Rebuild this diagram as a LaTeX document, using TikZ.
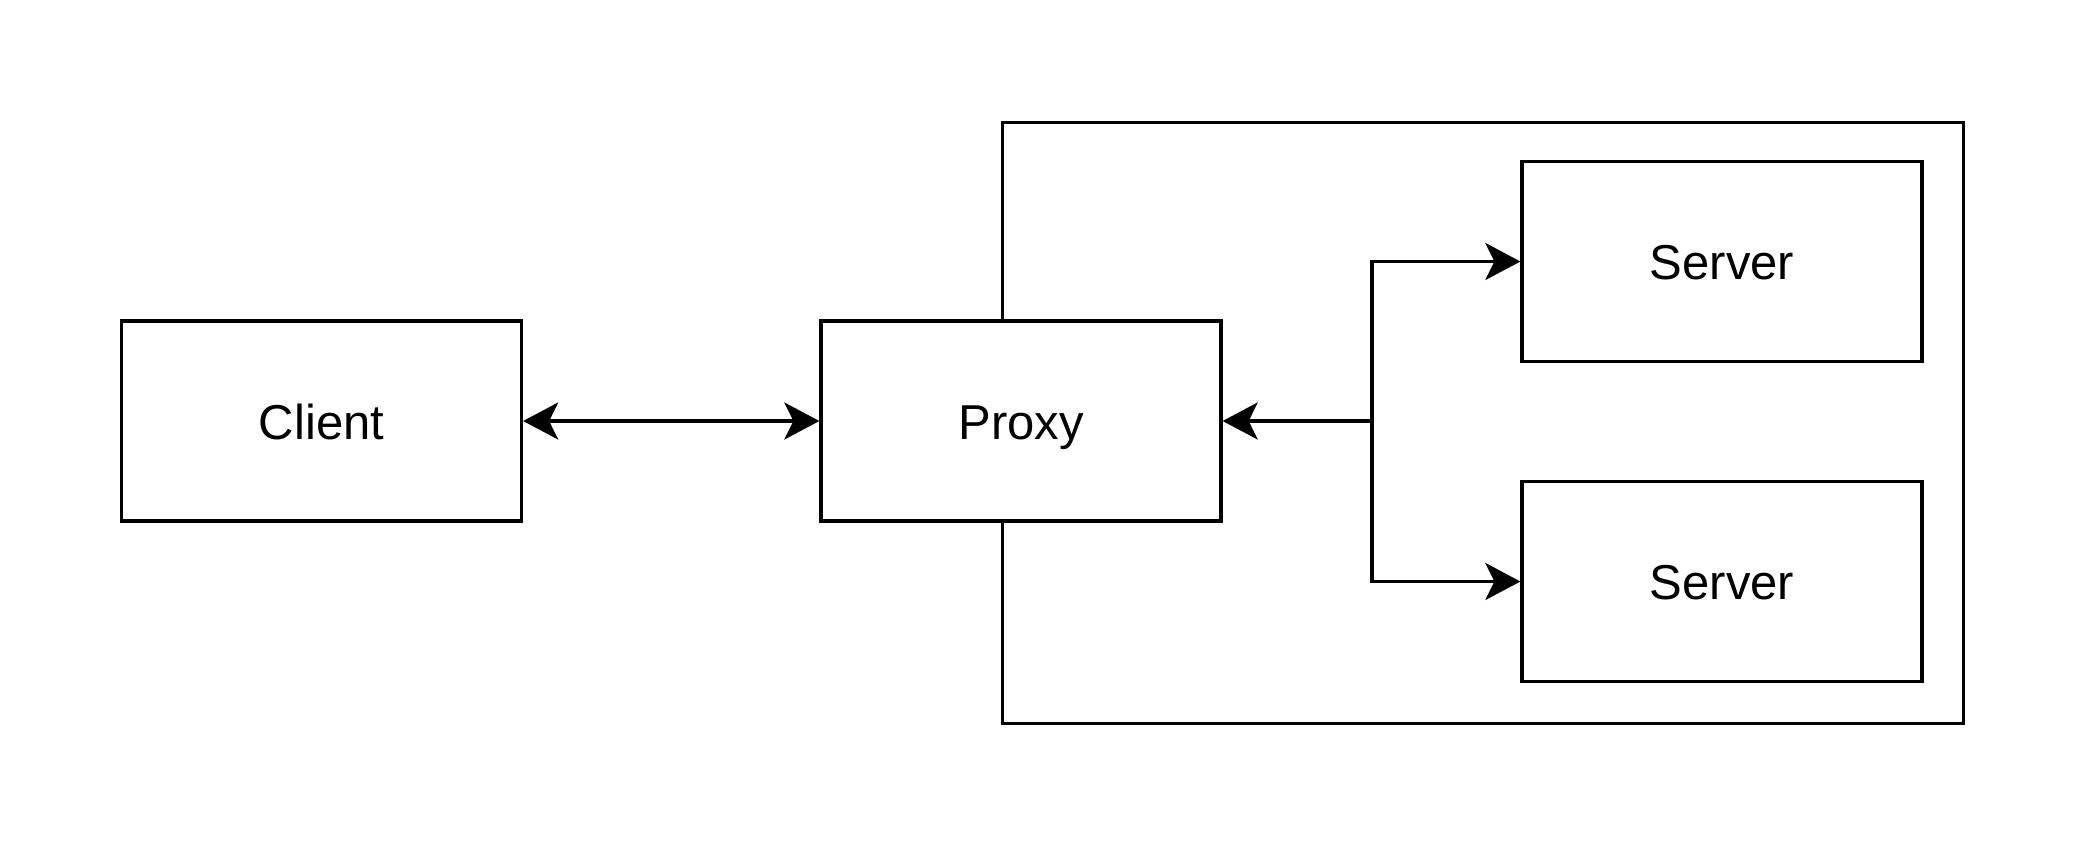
\documentclass[tikz,border=0pt]{standalone}
\usepackage{fontspec}
\setmainfont{Liberation Sans}
\usetikzlibrary{arrows.meta}
\begin{document}
\begin{tikzpicture}[x=1pt,y=-1pt,
  box/.style={draw=black,fill=white,line width=3.3pt,minimum width=400pt,minimum height=200pt,inner sep=0pt,text height=36pt,text depth=0pt,font=\fontsize{49}{53}\selectfont},
  conn/.style={line width=3.3pt,-{Stealth[length=35pt,width=37pt,inset=9pt]}},
  biconn/.style={line width=3.3pt,{Stealth[length=35pt,width=37pt,inset=9pt]}-{Stealth[length=35pt,width=37pt,inset=9pt]}}]
\useasboundingbox (0,0) rectangle (2084,844);
\node[draw=black,line width=3.3pt,minimum width=961pt,minimum height=601pt,inner sep=0pt,anchor=north west] (group) at (1001,121) {};
\node[box] (client) at (321.5,421) {Client};
\node[box] (proxy) at (1021,421) {Proxy};
\node[box] (s1) at (1722,261.5) {Server};
\node[box] (s2) at (1722,581.5) {Server};
\coordinate (br) at (1372,421);
\draw[biconn] (client.east) -- (proxy.west);
\draw[conn] (br) -- (proxy.east);
\draw[conn] (br) |- (s1.west);
\draw[conn] (br) |- (s2.west);
\end{tikzpicture}
\end{document}
